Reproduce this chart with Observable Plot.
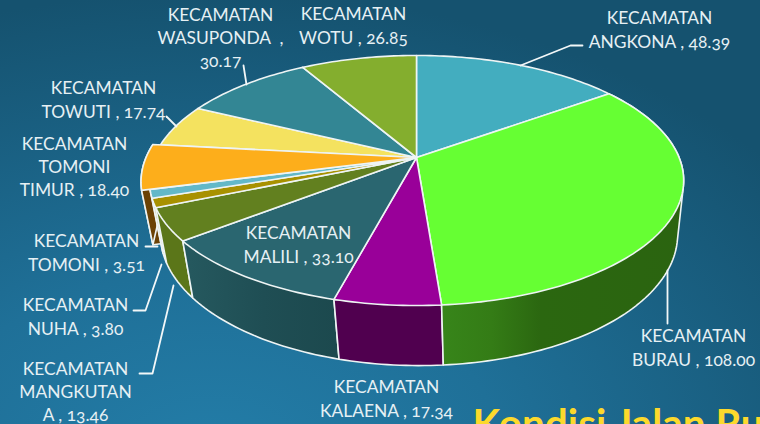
<!DOCTYPE html>
<html>
<head>
<meta charset="utf-8">
<script src="https://cdn.jsdelivr.net/npm/d3@7"></script>
<script src="https://cdn.jsdelivr.net/npm/@observablehq/plot@0.6"></script>
<style>
html,body{margin:0;padding:0;background:#15526f;overflow:hidden}
svg{display:block;font-variant-numeric:oldstyle-nums}
</style>
</head>
<body>
<script>
// Data, clockwise from twelve o'clock
const districts = ["ANGKONA","BURAU","KALAENA","MALILI","MANGKUTANA","NUHA","TOMONI","TOMONI TIMUR","TOWUTI","WASUPONDA","WOTU"];
const lengths = [48.39,108.00,17.34,33.10,13.46,3.80,3.51,18.40,17.74,30.17,26.85];
const labelTexts = [
  "KECAMATAN\nANGKONA , 48.39",
  "KECAMATAN\nBURAU , 108.00",
  "KECAMATAN\nKALAENA , 17.34",
  "KECAMATAN\nMALILI , 33.10",
  "KECAMATAN\nMANGKUTAN\nA , 13.46",
  "KECAMATAN\nNUHA , 3.80",
  "KECAMATAN\nTOMONI , 3.51",
  "KECAMATAN\nTOMONI\nTIMUR , 18.40",
  "KECAMATAN\nTOWUTI , 17.74",
  "KECAMATAN\nWASUPONDA  ,\n30.17",
  "KECAMATAN\nWOTU , 26.85"
];

// Styles and layout (separate from the data)
const topColors = ["#43adbf","#66ff33","#990099","#2a6670","#62801f","#a89100","#63b8c8","#fdae1b","#f4e25f","#338694","#84ae2e"];
const wallColors = ["#2a7280","url(#wallBurau)","#50004f","url(#wallMalili)","#5b7619","#8a7700","#8a7700","#6b4205","#a89a40","#225a64","#5a761f"];
const labelX = [659,693,386,298,75,75,86,74,103,220,353];
const labelY = [28,346,397,243,390,315,251,165,98,36,24];
const leaders = [
  [[520,65],[570,45],[582,45]],
  [[667,270],[667,323]],
  [],[],
  [[139,373],[152,373],[173,285]],
  [[133,310],[145,310],[161,264]],
  [[145,246],[157,246]],
  [],
  [[166,116],[176,126]],
  [[243,65],[246,84]],
  []
];

const W = 760, H = 424;
const cx = 416, cy = 157, rx = 262.6, ry = 120.8, k = 0.184, depth = 54.6, shrink = 1.033, bottomShift = 2.5;
const explodedIndex = districts.indexOf("TOMONI TIMUR"), explodeScale = 1.03;

const total = d3.sum(lengths);
const cumul = d3.cumsum(lengths);
const startAngle = i => (i ? cumul[i-1] : 0) / total * 2 * Math.PI;
const endAngle = i => cumul[i] / total * 2 * Math.PI;

// Perspective projection of a point on the unit disc at the top or bottom of the pie
function project(u, v, bottom) {
  const w = (1 - k * v) * (bottom ? shrink : 1);
  return {x: cx + (bottom ? bottomShift : 0) + rx * u / w, y: cy + (ry * v + (bottom ? depth : 0)) / w};
}
function arc(a0, a1, r, bottom) {
  const n = Math.max(2, Math.ceil(Math.abs(a1 - a0) * 48));
  return d3.range(n + 1).map(j => {
    const a = a0 + (a1 - a0) * j / n;
    return project(r * Math.sin(a), -r * Math.cos(a), bottom);
  });
}
const centerTop = project(0,0,false), centerBottom = project(0,0,true);
const radiusOf = i => i === explodedIndex ? explodeScale : 1;

function topFace(i) {
  const pts = arc(startAngle(i), endAngle(i), radiusOf(i), false);
  return [centerTop, ...pts, centerTop];
}
// The visible wall of a slice: hull of both rims, the part over the top is hidden by the top faces
function wallFace(i) {
  const r = radiusOf(i);
  const pts = [...arc(startAngle(i), endAngle(i), r, false), ...arc(startAngle(i), endAngle(i), r, true)];
  const hull = d3.polygonHull(pts.map(p => [p.x, p.y])).map(([x,y]) => ({x,y}));
  return [...hull, hull[0]];
}
function cutFace(i) {
  const r = radiusOf(i), a = startAngle(i);
  const t = arc(a, a, r, false)[0], b = arc(a, a, r, true)[0];
  return [t, centerTop, centerBottom, b, t];
}

const edge = "#eef4f4";
const face = (pts, fill, sw = 1.6) => Plot.line(pts, {x:"x", y:"y", fill, stroke:edge, strokeWidth:sw, strokeLinejoin:"round"});

const defs = () => {
  const d = d3.create("svg:defs");
  const grad = (id, x1, x2, stops) => {
    const g = d.append("linearGradient").attr("id", id).attr("gradientUnits","userSpaceOnUse")
      .attr("x1",x1).attr("x2",x2).attr("y1",0).attr("y2",0);
    stops.forEach(([o,c]) => g.append("stop").attr("offset",o).attr("stop-color",c));
  };
  grad("wallBurau", 441, 690, [[0,"#37851a"],[0.2,"#347c16"],[0.4,"#2b6710"],[1,"#2b6410"]]);
  grad("wallMalili", 189, 336, [[0,"#25585e"],[0.5,"#1f4e54"],[1,"#1c494e"]]);
  return d.node();
};

const wallOrder = [explodedIndex,6,5,4,3,2,1];
const topOrder = [0,1,2,3,4,5,6,8,9,10,explodedIndex];

const labels = districts.map((d,i) => ({text:labelTexts[i], x:labelX[i], y:labelY[i]}));
const title = [{text:"Kondisi Jalan Ru", x:472, y:437}];

const chart = Plot.plot({
  width:W, height:H, margin:0,
  x:{domain:[0,W], range:[0,W], axis:null},
  y:{domain:[0,H], range:[0,H], axis:null},
  style:{background:"radial-gradient(ellipse 95% 110% at 28% 108%, #237da8 0%, #1f7098 40%, #15526f 100%)", overflow:"hidden"},
  marks:[
    defs,
    face(cutFace(explodedIndex), wallColors[explodedIndex]),
    ...wallOrder.map(i => face(wallFace(i), wallColors[i])),
    ...topOrder.map(i => face(topFace(i), topColors[i])),
    ...leaders.filter(l => l.length).map(l => Plot.line(l.map(([x,y]) => ({x,y})), {x:"x", y:"y", stroke:"#f2f7f8", strokeWidth:1.8})),
    Plot.text(labels, {x:"x", y:"y", text:"text", fill:"#e6f0f4", fontSize:17.4, fontFamily:"Lato", lineHeight:1.34, textAnchor:"middle", lineAnchor:"middle"}),
    Plot.text(title, {x:"x", y:"y", text:"text", fill:"#fcd92c", fontSize:40.5, fontWeight:"bold", fontFamily:"Lato", textAnchor:"start", lineAnchor:"bottom"})
  ]
});
document.body.appendChild(chart);
</script>
</body>
</html>
